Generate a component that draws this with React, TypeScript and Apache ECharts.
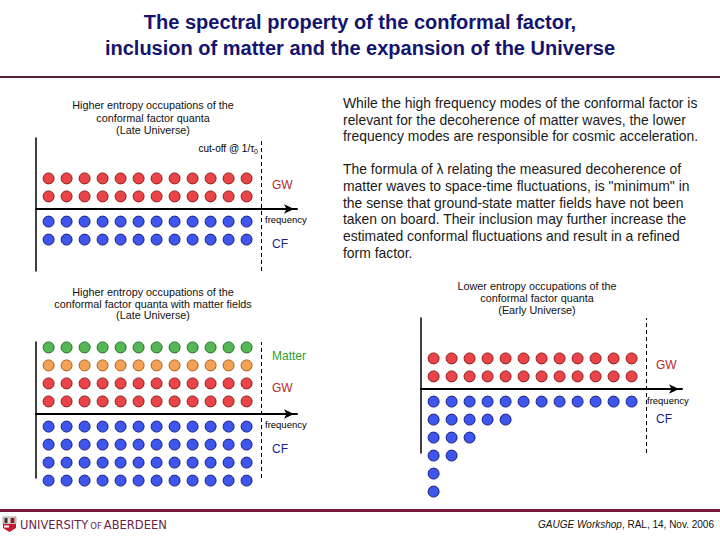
import React, { useEffect, useRef } from "react";
import * as echarts from "echarts";

// ---- data: occupation counts per row (row 0 = nearest the frequency axis) ----
const LATE_GW = [12, 12];
const LATE_CF = [12, 12];
const MATTER_GW = [12, 12];
const MATTER_ORANGE = [12]; // third row above axis
const MATTER_GREEN = [12]; // fourth row above axis
const MATTER_CF = [12, 12, 12, 12];
const EARLY_GW = [12, 12];
const EARLY_CF = [12, 5, 3, 2, 1, 1];
const CUTOFF = 12.5; // cut-off @ 1/tau0 on the frequency axis (in mode units)

const TITLE = ["The spectral property of the conformal factor,", "inclusion of matter and the expansion of the Universe"];
const PARA1 = [
  "While the high frequency modes of the conformal factor is",
  "relevant for the decoherence of matter waves, the lower",
  "frequency modes are responsible for cosmic acceleration.",
];
const PARA2 = [
  "The formula of λ relating the measured decoherence of",
  "matter waves to space-time fluctuations, is \"minimum\" in",
  "the sense that ground-state matter fields have not been",
  "taken on board. Their inclusion may further increase the",
  "estimated conformal fluctuations and result in a refined",
  "form factor.",
];
const CAP1 = ["Higher entropy occupations of the", "conformal factor quanta", "(Late Universe)"];
const CAP2 = ["Higher entropy occupations of the", "conformal factor quanta with matter fields", "(Late Universe)"];
const CAP3 = ["Lower entropy occupations of the", "conformal factor quanta", "(Early Universe)"];

function rowPoints(counts: number[], sign: number, startRow = 0) {
  const pts: number[][] = [];
  counts.forEach((n, r) => {
    for (let c = 0; c < n; c++) pts.push([c + 0.7, sign * (startRow + r + 0.7)]);
  });
  return pts;
}

const RED = { color: "#e3161b", borderColor: "#7a0505", borderWidth: 1 };
const BLUE = { color: "#0e2ce6", borderColor: "#05086a", borderWidth: 1 };
const GREEN = { color: "#2ba52b", borderColor: "#0d5a0d", borderWidth: 1 };
const ORANGE = { color: "#f08a2a", borderColor: "#9a4a05", borderWidth: 1 };

const FONT = "Liberation Sans, Arial, sans-serif";

export default function App() {
  const ref = useRef<HTMLDivElement>(null);
  useEffect(() => {
    if (!ref.current) return;
    const chart = echarts.init(ref.current, undefined, { renderer: "svg" });
    const U = 18;
    const grids = [
      { left: 36, top: 138, width: 261, height: 133, axisY: 209 },
      { left: 36, top: 342, width: 261, height: 136, axisY: 414 },
      { left: 421, top: 318, width: 261, height: 135, axisY: 389 },
    ];
    const xAxes = grids.map((g, i) => ({
      gridIndex: i,
      type: "value",
      min: 0,
      max: 14.5,
      axisLine: {
        show: true,
        onZero: true,
        symbol: ["none", "arrow"],
        symbolSize: [7, 10],
        symbolOffset: [0, -3],
        lineStyle: { color: "#000", width: 2 },
      },
      axisTick: { show: false },
      axisLabel: { show: false },
      splitLine: { show: false },
    }));
    const yAxes = grids.map((g, i) => ({
      gridIndex: i,
      type: "value",
      min: -(g.top + g.height - g.axisY) / U,
      max: (g.axisY - g.top) / U,
      axisLine: { show: true, onZero: false, lineStyle: { color: "#000", width: 1.5 } },
      axisTick: { show: false },
      axisLabel: { show: false },
      splitLine: { show: false },
    }));
    const cutLine = {
      silent: true,
      symbol: ["none", "none"],
      label: { show: false },
      lineStyle: { color: "#000", type: [4, 3], width: 1 },
      data: [{ xAxis: CUTOFF }],
    };
    const sc = (gi: number, data: number[][], style: any, extra: any = {}) => ({
      type: "scatter",
      xAxisIndex: gi,
      yAxisIndex: gi,
      data,
      symbol: "circle",
      symbolSize: 11,
      itemStyle: style,
      silent: true,
      clip: false,
      ...extra,
    });
    const series = [
      sc(0, rowPoints(LATE_GW, 1), RED, { markLine: cutLine }),
      sc(0, rowPoints(LATE_CF, -1), BLUE),
      sc(1, rowPoints(MATTER_GREEN, 1, 3), GREEN, { markLine: cutLine }),
      sc(1, rowPoints(MATTER_ORANGE, 1, 2), ORANGE),
      sc(1, rowPoints(MATTER_GW, 1), RED),
      sc(1, rowPoints(MATTER_CF, -1), BLUE),
      sc(2, rowPoints(EARLY_GW, 1), RED, { markLine: cutLine }),
      sc(2, rowPoints(EARLY_CF, -1), BLUE),
    ];
    const txt = (x: number, y: number, text: string, extra: any = {}) => ({
      type: "text",
      x,
      y,
      silent: true,
      style: {
        text,
        fontFamily: FONT,
        fontSize: 10,
        fill: "#000",
        verticalAlign: "middle",
        align: "left",
        ...extra,
      },
    });
    const cap = (cx: number, y0: number, lines: string[], lh: number) =>
      lines.map((l, i) => txt(cx, y0 + i * lh, l, { align: "center", fontSize: 10.8, fill: "#111" }));
    const graphic: any[] = [
      // title
      ...TITLE.map((l, i) =>
        txt(360, 22 + i * 26, l, {
          align: "center",
          fontFamily: "Liberation Sans Narrow, Arial Narrow, sans-serif",
          fontWeight: "bold",
          fontSize: 20,
          fill: "#14146e",
        })
      ),
      // rules
      { type: "rect", shape: { x: 0, y: 76, width: 720, height: 2 }, style: { fill: "#5a1f3c" }, silent: true },
      { type: "rect", shape: { x: 0, y: 509, width: 720, height: 3 }, style: { fill: "#7a1838" }, silent: true },
      ...cap(153, 105, CAP1, 12.5),
      ...cap(153, 292, CAP2, 11.7),
      ...cap(537, 286, CAP3, 12),
      // right text
      ...PARA1.map((l, i) => txt(343, 103 + i * 16.5, l, { fontSize: 13.9, fill: "#1a1a1a" })),
      ...PARA2.map((l, i) => txt(343, 169 + i * 16.8, l, { fontSize: 13.9, fill: "#1a1a1a" })),
      // panel labels
      {
        type: "text",
        x: 258,
        y: 148,
        silent: true,
        style: {
          text: "cut-off @ 1/τ{s|0}",
          rich: { s: { fontSize: 7, verticalAlign: "bottom", fontFamily: FONT, padding: [6, 0, 0, 0] } },
          fontFamily: FONT,
          fontSize: 10,
          fill: "#000",
          align: "right",
          verticalAlign: "middle",
        },
      },
      txt(272, 185, "GW", { fontSize: 12, fill: "#b8282a" }),
      txt(265, 219, "frequency", { fontSize: 9.5 }),
      txt(272, 244, "CF", { fontSize: 12, fill: "#1c1c8a" }),
      txt(272, 356, "Matter", { fontSize: 12, fill: "#2d9e2d" }),
      txt(272, 388, "GW", { fontSize: 12, fill: "#b8282a" }),
      txt(265, 424, "frequency", { fontSize: 9.5 }),
      txt(272, 449, "CF", { fontSize: 12, fill: "#1c1c8a" }),
      txt(656, 365, "GW", { fontSize: 12, fill: "#b8282a" }),
      txt(647, 400, "frequency", { fontSize: 9.5 }),
      txt(656, 419, "CF", { fontSize: 12, fill: "#1c1c8a" }),
      // logo
      {
        type: "group",
        x: 3,
        y: 517,
        silent: true,
        children: [
          { type: "rect", shape: { x: 0, y: 0, width: 13, height: 7 }, style: { fill: "#e8e2da", stroke: "#555", lineWidth: 0.5 } },
          { type: "rect", shape: { x: 1.5, y: 1, width: 3, height: 5 }, style: { fill: "#333" } },
          { type: "rect", shape: { x: 7.5, y: 1, width: 4, height: 5 }, style: { fill: "#8a1d2f" } },
          { type: "polygon", shape: { points: [[0, 7], [13, 7], [13, 11], [6.5, 15], [0, 11]] }, style: { fill: "#c4182e" } },
          { type: "rect", shape: { x: 1, y: 8.5, width: 5, height: 2 }, style: { fill: "#fff" } },
        ],
      },
      {
        type: "text",
        x: 20,
        y: 525,
        silent: true,
        style: {
          text: "UNIVERSITY{o|OF}ABERDEEN",
          rich: { o: { fontSize: 8.5, fill: "#6a1f48", fontFamily: "DejaVu Sans", padding: [2, 2, 0, 2] } },
          fontFamily: "DejaVu Sans",
          fontSize: 11.5,
          fill: "#6a1f48",
          verticalAlign: "middle",
        },
      },
      {
        type: "text",
        x: 714,
        y: 524,
        silent: true,
        style: {
          text: "{i|GAUGE Workshop}, RAL, 14, Nov. 2006",
          rich: { i: { fontStyle: "italic", fontSize: 10, fontFamily: FONT, fill: "#111" } },
          fontFamily: FONT,
          fontSize: 10,
          fill: "#111",
          align: "right",
          verticalAlign: "middle",
        },
      },
    ];
    chart.setOption({
      animation: false,
      backgroundColor: "#fff",
      grid: grids.map((g) => ({ left: g.left, top: g.top, width: g.width, height: g.height })),
      xAxis: xAxes,
      yAxis: yAxes,
      series,
      graphic,
    } as any);
    return () => chart.dispose();
  }, []);
  return <div ref={ref} style={{ width: 720, height: 540, position: "absolute", left: 0, top: 0 }} />;
}
